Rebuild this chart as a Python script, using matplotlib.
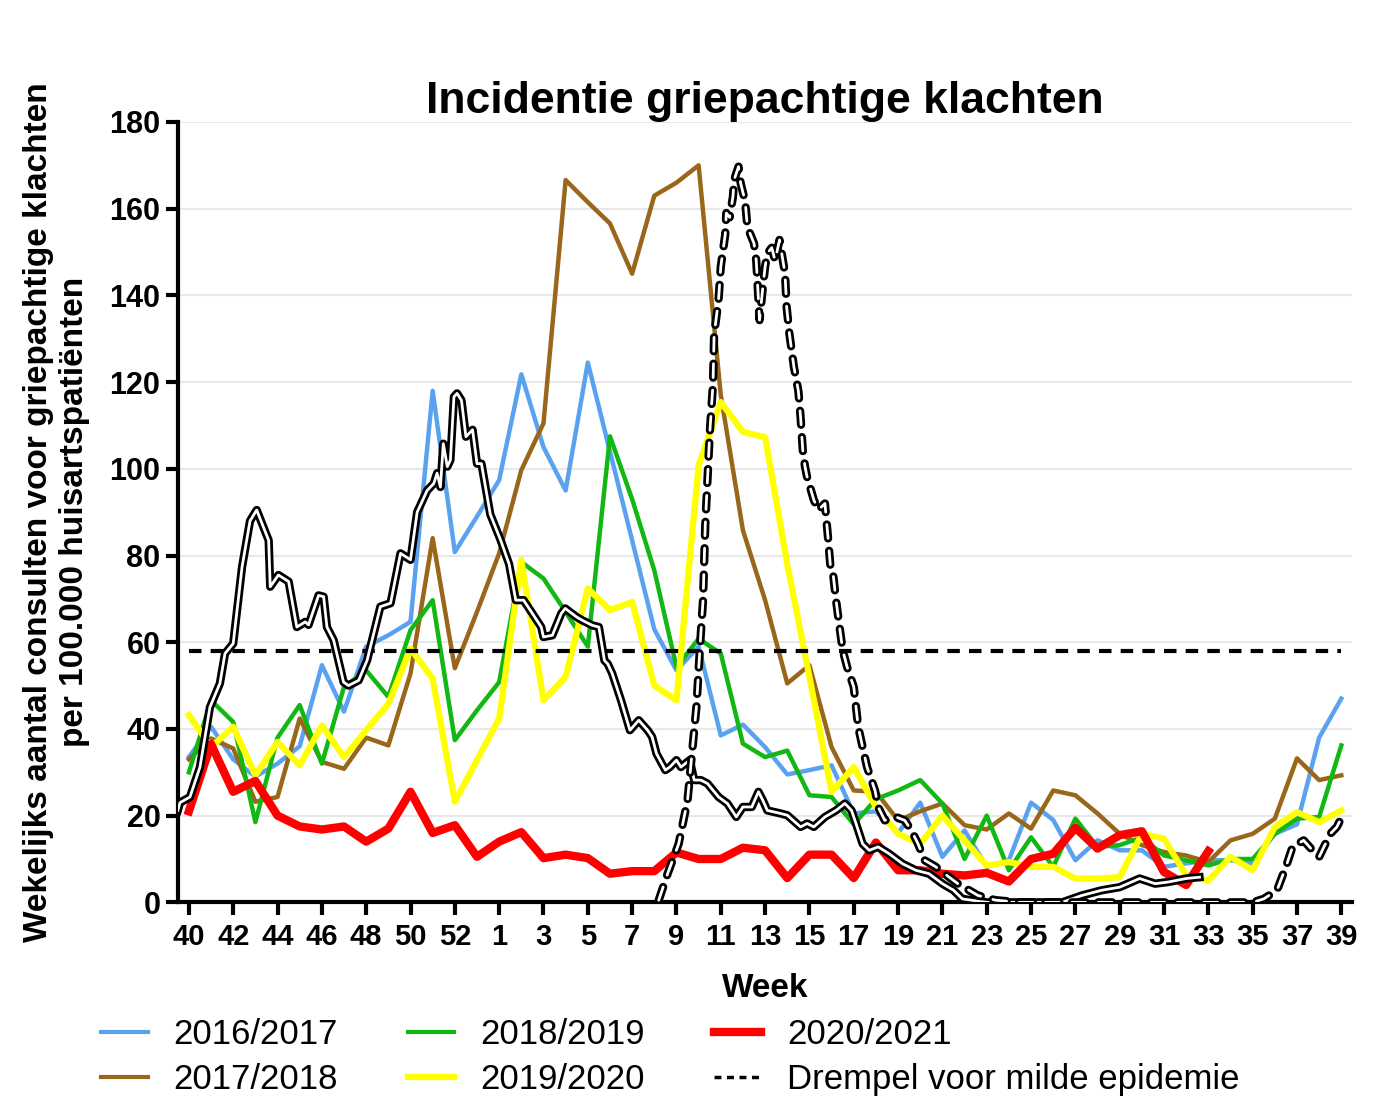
import numpy as np
import matplotlib.pyplot as plt
import matplotlib.patheffects as pe
from matplotlib.lines import Line2D

plt.rcParams['font.family'] = ['Liberation Sans Narrow', 'Liberation Sans', 'DejaVu Sans']

nan = np.nan
weeks = list(range(40, 54)) + list(range(1, 40))
pos = np.arange(len(weeks))

s1617 = [33.5, 40.5, 33, 29, 32, 36, 54.7, 44, 59, 61.6, 64.7, 118, 80.8, 89, 97.4, 121.8, 105, 95, 124.5, 104,
         83.5, 63, 53.5, 59, 38.5, 41, 35.8, 29.5, 30.5, 31.6, 20.5, 21, 16, 23, 10.5, 16.6, 8.2, 9.7, 23, 19,
         9.7, 14.3, 12, 12, 8.2, 9, 9.7, 9.7, 9, 15.8, 18, 38, 47]
s1718 = [33, 37.8, 35.5, 23.2, 24.3, 42.4, 32.4, 30.8, 38, 36.2, 52.8, 84, 54, 67, 80.5, 99.7, 110.5, 166.6, 161.5, 156.6,
         145, 163, 166, 170, 117, 85.8, 69.7, 50.5, 54.7, 35.8, 25.8, 25.5, 18.9, 21, 22.8, 17.8, 16.8, 20.5, 17, 25.8,
         24.7, 20.5, 15.8, 13.2, 11.6, 10.8, 9.3, 14.3, 15.8, 19.3, 33.2, 28.2, 29.3]
s1819 = [30, 46.6, 41.6, 18.5, 38, 45.5, 32, 49.7, 53.5, 47.4, 62.8, 69.7, 37.4, 44.3, 50.8, 78.5, 74.7, 67, 59, 107.5,
         93, 76.6, 54.3, 60.8, 57.4, 36.6, 33.5, 35, 24.7, 24.3, 18, 23.8, 25.8, 28.2, 22.8, 10, 20, 7.4, 15, 8.2,
         19.3, 12.8, 13.2, 15, 10.8, 9.7, 8.5, 10, 10, 15.8, 19.3, 19.7, 36.2]
s1920 = [43.2, 35.8, 40.5, 29.3, 37, 31.6, 40.8, 33.5, 39.7, 45.8, 58.5, 51.6, 23.2, 32.8, 42.4, 79, 46.6, 52, 72.4, 67.4,
         69.3, 50, 46.6, 100.8, 115.4, 108.5, 107.3, 78, 52, 25.5, 31.2, 22, 15.8, 13.5, 20, 14.3, 8.5, 9.3, 8.2, 8.2,
         5.5, 5.5, 5.8, 15.8, 14.7, 6.2, 5, 10.5, 7.4, 17.4, 20.8, 18.5, 21.2]
s2021 = [21, 36.5, 25.5, 28, 20, 17.5, 16.8, 17.5, 14, 17, 25.5, 16, 17.8, 10.5, 14, 16.2, 10.2, 11, 10.2, 6.6,
         7.2, 7.2, 11.5, 10, 10, 12.6, 12, 5.6, 11, 11, 5.6, 13.8, 7.4, 7.4, 6.6, 6.2, 6.8, 4.8, 10, 11.2,
         17.2, 12.4, 15.5, 16.4, 7, 4, 11.8, nan, nan, nan, nan, nan, nan]
threshold = [58] * len(weeks)

# unlabelled black curves (fine resolution, position in weeks-from-40, value)
solid_x = [-0.5, -0.4, 0.05, 0.5, 0.95, 1.4, 1.63, 2.0, 2.4, 2.76, 3.06, 3.36, 3.6, 3.67, 4.04, 4.5, 4.87, 5.25, 5.4, 5.85,
           6.08, 6.23, 6.53, 6.98, 7.2, 7.66, 8.04, 8.64, 9.1, 9.55, 10.0, 10.3, 10.75, 11.05, 11.2, 11.35, 11.48, 11.66, 11.8, 11.96,
           12.1, 12.3, 12.5, 12.8, 13.0, 13.2, 13.6, 14.07, 14.45, 14.75, 15.1, 15.4, 15.9, 16.0, 16.4, 16.8, 16.98, 17.5, 17.77, 18.2,
           18.5, 18.75, 18.9, 19.1, 19.5, 19.9, 20.3, 20.7, 20.9, 21.1, 21.5, 21.7, 22.0, 22.2, 22.6, 22.8, 23.1, 23.4, 23.9, 24.3,
           24.7, 25.0, 25.4, 25.7, 25.9, 26.1, 26.7, 27.0, 27.6, 27.9, 28.2, 28.7, 29.2, 29.6, 29.9, 30.1, 30.4, 30.7, 31.1, 31.6,
           32.2, 32.8, 33.4, 34.0, 34.5, 34.9, 36.0, 39.4, 40.3, 41.2, 42.0, 42.9, 43.6, 44.2, 45.0, 45.6]
solid_y = [21.2, 23, 24.3, 31.2, 45, 50.5, 57.4, 59.7, 77.4, 88, 90.5, 86.6, 83.5, 72.8, 75.5, 74, 63.5, 64.7, 64, 70.8,
           70.5, 63.5, 60.5, 50.8, 50, 51.2, 55.8, 68.2, 69, 80.5, 79, 90, 95, 96.6, 99, 95.8, 105.8, 100.5, 102, 116.6,
           117.4, 115.8, 107.4, 109, 101.2, 101.2, 89.5, 83.5, 78, 69.7, 69.7, 67.4, 63.5, 61.2, 61.6, 66.6, 67.8, 65.8, 65, 63.9,
           63.5, 55.8, 55, 52.8, 46.6, 39.7, 42, 39.7, 38.2, 34.3, 30.5, 31.2, 32.8, 31.2, 32.8, 28.2, 28.2, 27.4, 24.3, 22.8,
           19.7, 22, 22, 25.5, 23.5, 21.2, 20.5, 20.1, 17.4, 18.2, 17.4, 19.7, 21.2, 22.8, 21.2, 18.2, 13.5, 12, 12.8, 11.2,
           8.9, 7.4, 6.6, 4.3, 2.8, 0.8, 0, 0, 1.6, 2.8, 3.5, 5.5, 4.3, 4.7, 5.5, 5.8]
dashed_x = [21.2, 21.6, 22.1, 22.5, 22.7, 22.9, 23.1, 23.2, 23.3, 23.5, 23.65, 23.7, 23.9, 24.0, 24.2, 24.25, 24.4, 24.55, 24.6, 24.8,
            24.9, 25.1, 25.2, 25.5, 25.6, 25.7, 25.75, 25.9, 26.0, 26.1, 26.3, 26.45, 26.65, 26.75, 26.9, 26.97, 27.1, 27.3, 27.5, 27.6,
            27.7, 27.8, 27.9, 28.2, 28.4, 28.7, 28.85, 28.95, 29.05, 29.2, 29.4, 29.5, 29.7, 30.0, 30.2, 30.4, 30.6, 30.96, 31.1, 31.4,
            31.9, 32.3, 32.6, 32.9, 33.2, 33.7, 34.1, 34.7, 35.6, 36.4, 37.5, 48.0, 48.5, 49.1, 49.5, 49.8, 50.3, 50.7, 51.0, 51.5,
            51.8, 52.1]
dashed_y = [0.5, 6.6, 13.5, 23.5, 34.3, 45, 62, 69.7, 87, 108, 119.7, 131, 139, 146.6, 154, 159, 158, 162.8, 166.6, 169.7,
            165.8, 161.7, 155.8, 152, 148, 139, 134.3, 142, 146.6, 149.7, 151, 148, 152.8, 149.7, 145, 137.4, 131, 123.5, 118, 112,
            104.3, 100.5, 98, 92.8, 90.5, 92, 83.5, 77.4, 76.6, 69.7, 62, 58.2, 54.3, 49.7, 40.5, 35.8, 31.2, 25.8, 22, 18.9,
            19.7, 18.9, 16.6, 13.5, 9.7, 8.2, 6.6, 4.3, 1.6, 0.5, 0, 0, 0.8, 2.8, 8.2, 12.8, 14.3, 12, 10.5, 15.8,
            17.4, 20.5]

fig = plt.figure(figsize=(14, 11.14), dpi=100)
ax = fig.add_axes([0.127, 0.19, 0.839, 0.7005])

for v in range(20, 181, 20):
    ax.axhline(v, color='#e8e8e8', lw=1.5, zorder=0)

ax.plot(pos, s1617, color='#5aa2f0', lw=3.2, label='2016/2017', zorder=3)
ax.plot(pos, s1718, color='#99661a', lw=3.2, label='2017/2018', zorder=3)
ax.plot(pos, s1819, color='#12b812', lw=3.2, label='2018/2019', zorder=3)
ax.plot(pos, s1920, color='#ffff00', lw=4.5, label='2019/2020', zorder=4)
ax.plot(pos, s2021, color='#ff0000', lw=6, label='2020/2021', zorder=5)
ax.plot(pos, threshold, color='black', lw=3, ls=(0, (3, 2.2)), label='Drempel voor milde epidemie', zorder=6)

outline = [pe.Stroke(linewidth=6, foreground='black'), pe.Normal()]
ax.plot(solid_x, solid_y, color='white', lw=2, zorder=7, path_effects=outline)
ax.plot(dashed_x, dashed_y, color='white', lw=2, ls=(0, (5, 4.5)), dash_capstyle='round',
        zorder=7, path_effects=outline)

ax.set_xlim(-0.5, 52.5)
ax.set_ylim(0, 180)
ax.set_yticks(range(0, 181, 20))
ax.set_xticks(pos[::2])
ax.set_xticklabels([str(w) for w in weeks[::2]])
for s in ['top', 'right']:
    ax.spines[s].set_visible(False)
for s in ['left', 'bottom']:
    ax.spines[s].set_linewidth(3)
ax.tick_params(width=3, length=9, labelsize=21)
ax.tick_params(axis='y', labelsize=22)
for lab in ax.get_xticklabels() + ax.get_yticklabels():
    lab.set_fontweight('bold')
ax.tick_params(axis='x', pad=6)

ax.set_title('Incidentie griepachtige klachten', fontsize=32, fontweight='bold', pad=5)
ax.set_xlabel('Week', fontsize=24, fontweight='bold', labelpad=16)
ax.set_ylabel('Wekelijks aantal consulten voor griepachtige klachten\nper 100.000 huisartspatiënten',
              fontsize=24, fontweight='bold', labelpad=14)

handles = [Line2D([], [], color='#5aa2f0', lw=3), Line2D([], [], color='#99661a', lw=3),
           Line2D([], [], color='#12b812', lw=3), Line2D([], [], color='#ffff00', lw=4.5),
           Line2D([], [], color='#ff0000', lw=6), Line2D([], [], color='black', lw=2.5, ls=(0, (2, 1.6)))]
labels = ['2016/2017', '2017/2018', '2018/2019', '2019/2020', '2020/2021', 'Drempel voor milde epidemie']
fig.legend(handles, labels, loc='center left', bbox_to_anchor=(0.062, 0.051), borderaxespad=0, ncol=3,
           frameon=False, fontsize=25, handlelength=1.35, handletextpad=0.75, columnspacing=2.0,
           labelspacing=0.35)

fig.savefig('out.png', dpi=100)
